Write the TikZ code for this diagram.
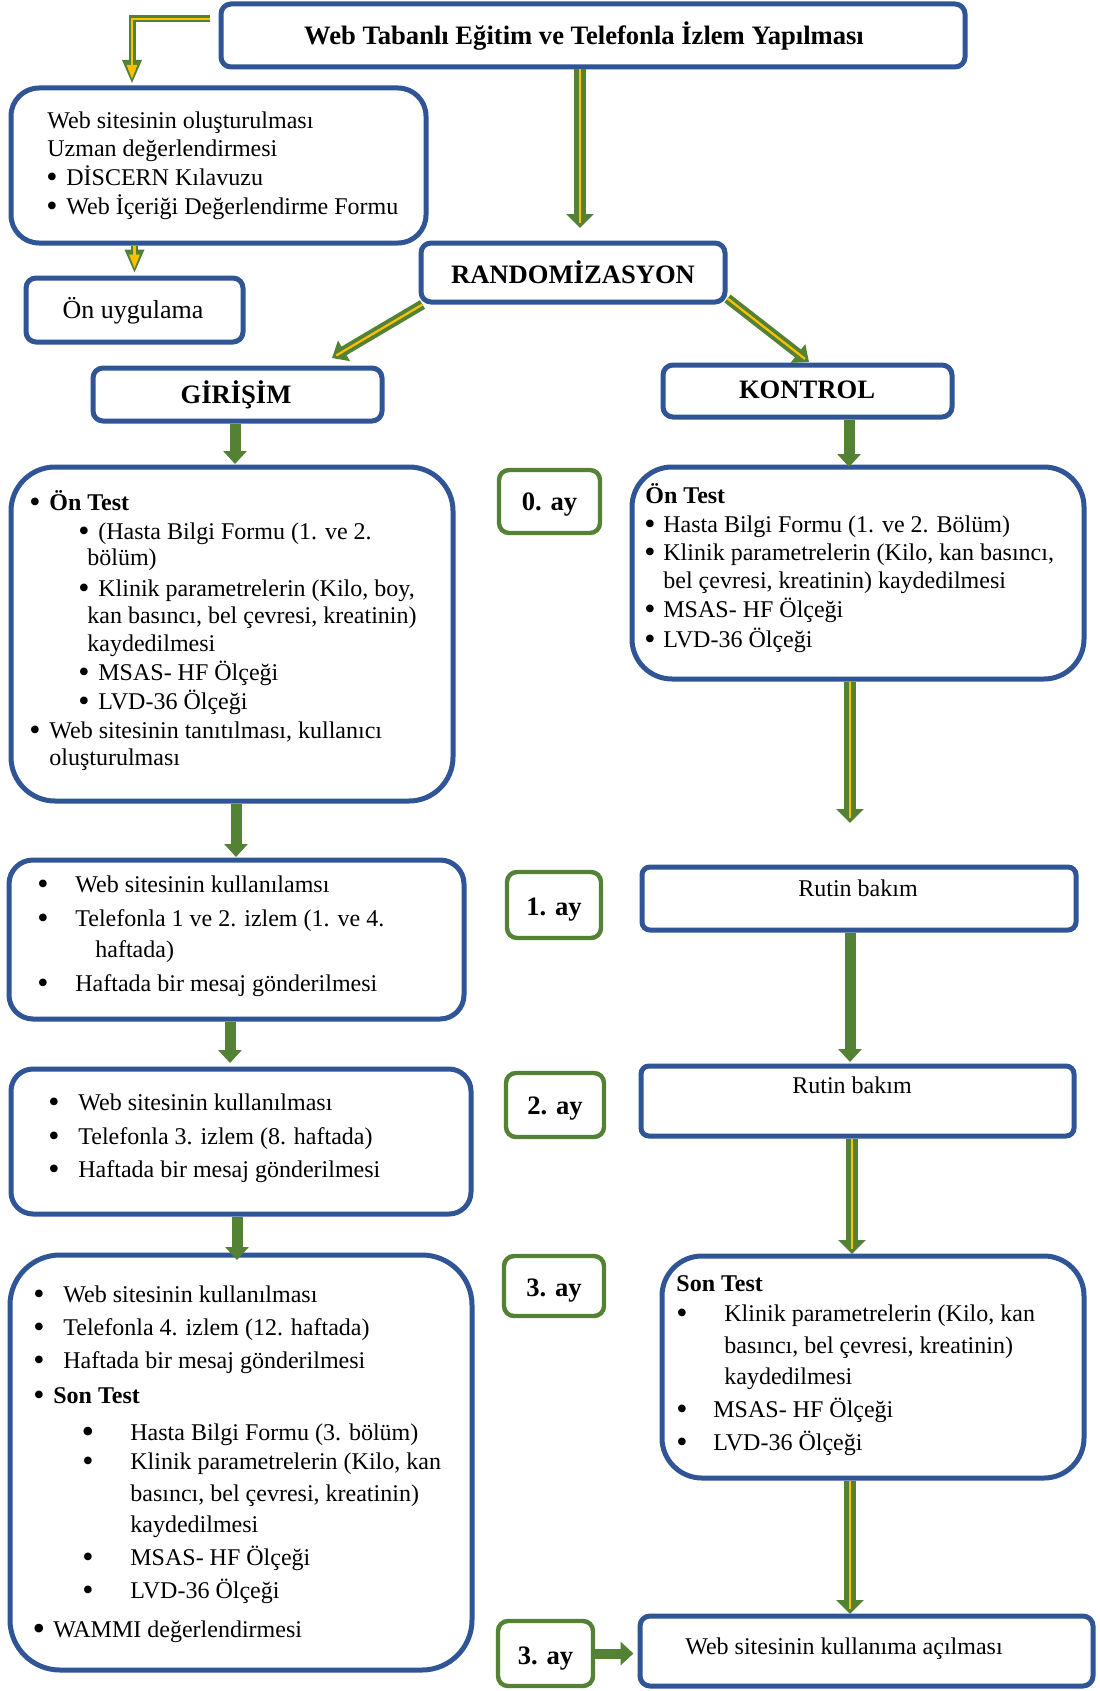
\documentclass[tikz,border=0pt]{standalone}
\usepackage{fontspec}
\setmainfont{Liberation Serif}
\usetikzlibrary{arrows.meta,fit}
\definecolor{bl}{RGB}{47,85,151}
\definecolor{gr}{RGB}{84,130,53}
\definecolor{yl}{RGB}{255,192,0}
\tikzset{
  bbox/.style={draw=bl, line width=2.5pt, rounded corners=#1, inner sep=0pt},
  bbox/.default=5pt,
  gbox/.style={draw=gr, line width=2.2pt, rounded corners=5pt, inner sep=0pt},
  tx/.style={inner sep=0pt, anchor=base west, font=\fontsize{12}{14}\selectfont},
  txc/.style={inner sep=0pt, anchor=base, font=\fontsize{12}{14}\selectfont},
  hd/.style={inner sep=0pt, anchor=base, font=\fontsize{13.3}{16}\selectfont\bfseries},
  bu/.style={inner sep=0pt, anchor=base, yshift=-1.2pt, font=\fontsize{16}{16}\selectfont},
  bbu/.style={inner sep=0pt, anchor=base, yshift=-1.8pt, font=\fontsize{18}{18}\selectfont},
  garrow/.style={draw=gr, line width=5.5pt, -{Triangle[width=11.5pt,length=6.5pt]}},
  darrow/.style={draw=gr, line width=6pt, -{Triangle[width=13.5pt,length=7pt]}},
  yline/.style={draw=yl, line width=1.4pt, shorten >=2.5pt},
  oarrow/.style={draw=gr, line width=3.5pt, -{Triangle[width=9pt,length=12pt]}},
  oyel/.style={draw=yl, line width=1.2pt, shorten >=2.5pt, -{Triangle[width=5pt,length=7pt]}},
}
\newcommand\mytl[4]{\node[tx] (#1) at (#2,#3) {#4};}
\newcommand\mybul[3]{\node[bu] (#1) at (#2,#3) {\smash{\textbullet}};}
\newcommand\mybbul[3]{\node[bbu] (#1) at (#2,#3) {\smash{\textbullet}};}
\begin{document}
\begin{tikzpicture}[x=0.5pt,y=-0.5pt]
\useasboundingbox (0,0) rectangle (1099,1691);
\fill[white] (0,0) rectangle (1099,1691);

% ---------- boxes ----------
\node[bbox, fit={(221,4) (965,67)}] (top) {};
\node[bbox=14pt, fit={(11,88) (426,243)}] (box1) {};
\node[bbox, fit={(26,278) (243,342)}] (onu) {};
\node[bbox, fit={(421,243) (725,302)}] (rand) {};
\node[bbox, fit={(93,368) (382,421)}] (gir) {};
\node[bbox, fit={(663,365) (952,417)}] (kon) {};
\node[bbox=22pt, fit={(11,467) (453,801)}] (otl) {};
\node[gbox, fit={(499,470) (600,533)}] (ay0) {};
\node[bbox=20pt, fit={(632,467) (1084,679)}] (otr) {};
\node[bbox=12pt, fit={(9,860) (464,1019)}] (box2) {};
\node[gbox, fit={(507,872) (601,938)}] (ay1) {};
\node[bbox=4pt, fit={(642,867) (1076,930)}] (rut1) {};
\node[bbox=11pt, fit={(11,1069) (471,1214)}] (box3) {};
\node[gbox, fit={(506,1073) (604,1137)}] (ay2) {};
\node[bbox=4pt, fit={(641,1066) (1074,1136)}] (rut2) {};
\node[bbox=25pt, fit={(10,1255) (472,1670)}] (box4) {};
\node[gbox, fit={(504,1256) (604,1316)}] (ay3) {};
\node[bbox=20pt, fit={(662,1256) (1084,1478)}] (sonr) {};
\node[gbox, fit={(498,1621) (593,1686)}] (ay3b) {};
\node[bbox, fit={(640,1616) (1093,1686)}] (web) {};

% ---------- headings ----------
\node[hd] (topt) at (584,45) {Web Tabanlı Eğitim ve Telefonla İzlem Yapılması};
\node[hd] (randt) at (573,283) {RANDOMİZASYON};
\node[hd] (girt) at (236,403) {GİRİŞİM};
\node[hd] (kont) at (807,398) {KONTROL};
\node[hd] (ay0t) at (549.5,510) {0. ay};
\node[hd] (ay1t) at (554,915) {1. ay};
\node[hd] (ay2t) at (555,1114) {2. ay};
\node[hd] (ay3t) at (554,1296) {3. ay};
\node[hd] (ay3bt) at (545.5,1664) {3. ay};
\node[inner sep=0pt, anchor=base, font=\fontsize{13}{15}\selectfont] (onut) at (133,318) {Ön uygulama};
\node[txc] (rut1t) at (858,896) {Rutin bakım};
\node[txc] (rut2t) at (852,1093) {Rutin bakım};
\node[txc] (webt) at (844,1654) {Web sitesinin kullanıma açılması};

% ---------- box1 ----------
\mytl{b1a}{47}{128}{Web sitesinin oluşturulması}
\mytl{b1b}{47}{156}{Uzman değerlendirmesi}
\mybul{b1cb}{52}{185}\mytl{b1c}{66}{185}{DİSCERN Kılavuzu}
\mybul{b1db}{52}{214}\mytl{b1d}{66}{214}{Web İçeriği Değerlendirme Formu}

% ---------- left On Test ----------
\mybul{l1b}{35}{510}\mytl{l1}{49}{510}{\bfseries Ön Test}
\mybul{l2b}{84}{539}\mytl{l2}{98}{539}{(Hasta Bilgi Formu (1. ve 2.}
\mytl{l3}{87}{565}{bölüm)}
\mybul{l4b}{84}{596}\mytl{l4}{98}{596}{Klinik parametrelerin (Kilo, boy,}
\mytl{l5}{87}{623}{kan basıncı, bel çevresi, kreatinin)}
\mytl{l6}{87}{651}{kaydedilmesi}
\mybul{l7b}{84}{680}\mytl{l7}{98}{680}{MSAS- HF Ölçeği}
\mybul{l8b}{84}{709}\mytl{l8}{98}{709}{LVD-36 Ölçeği}
\mybul{l9b}{35}{738}\mytl{l9}{49}{738}{Web sitesinin tanıtılması, kullanıcı}
\mytl{l10}{49}{765}{oluşturulması}

% ---------- right On Test ----------
\mytl{r1}{645}{503}{\bfseries Ön Test}
\mybul{r2b}{650}{532}\mytl{r2}{663}{532}{Hasta Bilgi Formu (1. ve 2. Bölüm)}
\mybul{r3b}{650}{560}\mytl{r3}{663}{560}{Klinik parametrelerin (Kilo, kan basıncı,}
\mytl{r4}{663}{588}{bel çevresi, kreatinin) kaydedilmesi}
\mybul{r5b}{650}{617}\mytl{r5}{663}{617}{MSAS- HF Ölçeği}
\mybul{r6b}{650}{647}\mytl{r6}{663}{647}{LVD-36 Ölçeği}

% ---------- box2 ----------
\mybul{c1b}{43}{892}\mytl{c1}{75}{892}{Web sitesinin kullanılamsı}
\mybul{c2b}{43}{926}\mytl{c2}{75}{926}{Telefonla 1 ve 2. izlem (1. ve 4.}
\mytl{c3}{95}{957}{haftada)}
\mybul{c4b}{43}{991}\mytl{c4}{75}{991}{Haftada bir mesaj gönderilmesi}

% ---------- box3 ----------
\mybul{d1b}{54}{1110}\mytl{d1}{78}{1110}{Web sitesinin kullanılması}
\mybul{d2b}{54}{1144}\mytl{d2}{78}{1144}{Telefonla 3. izlem (8. haftada)}
\mybul{d3b}{54}{1177}\mytl{d3}{78}{1177}{Haftada bir mesaj gönderilmesi}

% ---------- box4 ----------
\mybul{e1b}{39}{1302}\mytl{e1}{63}{1302}{Web sitesinin kullanılması}
\mybul{e2b}{39}{1335}\mytl{e2}{63}{1335}{Telefonla 4. izlem (12. haftada)}
\mybul{e3b}{39}{1368}\mytl{e3}{63}{1368}{Haftada bir mesaj gönderilmesi}
\mybul{e4b}{39}{1403}\mytl{e4}{53}{1403}{\bfseries Son Test}
\mybbul{e5b}{88}{1440}\mytl{e5}{130}{1440}{Hasta Bilgi Formu (3. bölüm)}
\mybul{e6b}{88}{1469}\mytl{e6}{130}{1469}{Klinik parametrelerin (Kilo, kan}
\mytl{e7}{130}{1501}{basıncı, bel çevresi, kreatinin)}
\mytl{e8}{130}{1532}{kaydedilmesi}
\mybul{e9b}{88}{1565}\mytl{e9}{130}{1565}{MSAS- HF Ölçeği}
\mybul{e10b}{88}{1598}\mytl{e10}{130}{1598}{LVD-36 Ölçeği}
\mybbul{e11b}{39}{1637}\mytl{e11}{53}{1637}{WAMMI değerlendirmesi}

% ---------- Son Test right ----------
\mytl{s1}{676}{1291}{\bfseries Son Test}
\mybul{s2b}{682}{1321}\mytl{s2}{724}{1321}{Klinik parametrelerin (Kilo, kan}
\mytl{s3}{724}{1353}{basıncı, bel çevresi, kreatinin)}
\mytl{s4}{724}{1384}{kaydedilmesi}
\mybul{s5b}{682}{1417}\mytl{s5}{713}{1417}{MSAS- HF Ölçeği}
\mybul{s6b}{682}{1450}\mytl{s6}{713}{1450}{LVD-36 Ölçeği}

% ---------- connector end points ----------
\coordinate (L1) at (210,19);
\coordinate (L2) at (132,84);
\coordinate (tR) at (580,228);
\coordinate (tG) at (332,358);
\coordinate (tK) at (809,362);
\coordinate (tGd) at (235,464);
\coordinate (tKd) at (849,467);
\coordinate (tOL) at (236,857);
\coordinate (tOR) at (850,823);
\coordinate (tB2) at (230,1063);
\coordinate (tR1) at (850,1062);
\coordinate (tB3) at (237,1260);
\coordinate (tR2) at (852,1254);
\coordinate (tS) at (850,1614);

% ---------- outlined arrows ----------
\draw[oarrow] (L1) -| (L2);
\draw[oyel] (L1) -| (L2);
\draw[oarrow, shorten >=1pt] (box1.south -| onu.north) -- (onu.north);
\draw[oyel, shorten >=3.5pt] (box1.south -| onu.north) -- (onu.north);

% ---------- double arrows ----------
\draw[darrow] (top.south -| tR) -- (tR);
\draw[yline] (top.south -| tR) -- (tR);
\draw[darrow, line width=5pt, -{Triangle[width=11.5pt,length=7pt]}] ([xshift=2pt]rand.south west) -- (tG);
\draw[yline, line width=1.1pt] ([xshift=2pt]rand.south west) -- (tG);
\draw[darrow, line width=5pt, -{Triangle[width=11.5pt,length=7pt]}] ([yshift=3pt]rand.south east) -- (tK);
\draw[yline, line width=1.1pt] ([yshift=3pt]rand.south east) -- (tK);
\draw[darrow] (otr.south -| tOR) -- (tOR);
\draw[yline] (otr.south -| tOR) -- (tOR);
\draw[darrow] (rut2.south -| tR2) -- (tR2);
\draw[yline] (rut2.south -| tR2) -- (tR2);
\draw[darrow] (sonr.south -| tS) -- (tS);
\draw[yline] (sonr.south -| tS) -- (tS);

% ---------- solid green arrows ----------
\draw[garrow] (gir.south -| tGd) -- (tGd);
\draw[garrow] (kon.south -| tKd) -- (tKd);
\draw[garrow] (otl.south -| tOL) -- (tOL);
\draw[garrow] (box2.south -| tB2) -- (tB2);
\draw[garrow] (rut1.south -| tR1) -- (tR1);
\draw[garrow] (box3.south -| tB3) -- (tB3);
\draw[garrow, line width=5pt, shorten >=2pt] (ay3b.east) -- (web.west |- ay3b.east);
\end{tikzpicture}
\end{document}
